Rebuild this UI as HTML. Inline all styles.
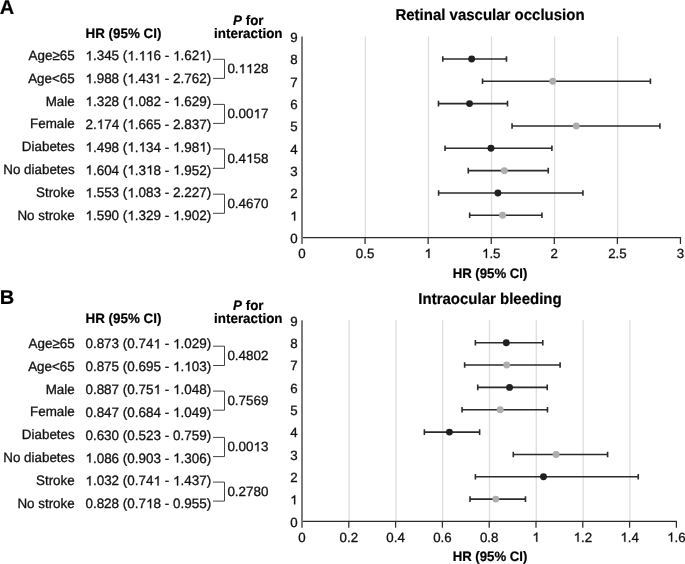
<!DOCTYPE html>
<html><head><meta charset="utf-8"><style>
html,body{margin:0;padding:0;background:#fff;}
body{width:685px;height:564px;overflow:hidden;}
svg{display:block;will-change:transform;}
text{font-family:"Liberation Sans",sans-serif;fill:#111;text-rendering:geometricPrecision;font-kerning:none;stroke:#111;stroke-width:0.3px;}
.base{font-size:13.3px;}
.tb{font-size:13.48px;}
.lb{font-size:13.4px;}
.pv{font-size:13.4px;}
.title{font-size:15px;}
.letter{font-size:20px;}
.b{font-size:13.4px;}
.ax{font-size:13.2px;}
.b,.ax,.title,.letter{font-weight:700;fill:#000;stroke:#000;stroke-width:0.2px;}
.h{fill-opacity:0;stroke-opacity:0;}
.one path{fill:#111;stroke:#111;stroke-width:0.3px;vector-effect:non-scaling-stroke;}
.g{stroke:#dedede;stroke-width:1.3;}
.ya{stroke:#777;stroke-width:1.9;}
.xa{stroke:#2a2a2a;stroke-width:1.25;fill:none;}
.eb{stroke:#2b2b2b;stroke-width:1.6;fill:none;}
.br{stroke:#444;stroke-width:1;fill:none;}
</style></head><body>
<svg width="685" height="564" viewBox="0 0 685 564">
<text x="-0.3" y="13.7" class="letter">A</text>
<text transform="translate(85.5 37.6) scale(1 1.025)" class="b">HR (95% CI)</text>
<text transform="translate(248.3 25) scale(1 1.025)" class="b" text-anchor="middle"><tspan font-style="italic">P</tspan> for</text>
<text transform="translate(248.3 37.9) scale(1 1.025)" class="b" text-anchor="middle">interaction</text>
<text transform="translate(490 19.9) scale(1 1.045)" class="title" text-anchor="middle">Retinal vascular occlusion</text>
<line x1="365.38" y1="36.44" x2="365.38" y2="237.5" class="g"/>
<line x1="428.45" y1="36.44" x2="428.45" y2="237.5" class="g"/>
<line x1="491.53" y1="36.44" x2="491.53" y2="237.5" class="g"/>
<line x1="554.6" y1="36.44" x2="554.6" y2="237.5" class="g"/>
<line x1="617.67" y1="36.44" x2="617.67" y2="237.5" class="g"/>
<text transform="translate(74.7 60) scale(1 1.015)" class="lb" text-anchor="end">Age≥65</text>
<text transform="translate(85.4 60.4) scale(1 1.01)" class="tb"><tspan class="h">1</tspan>.345 (<tspan class="h">1</tspan>.<tspan class="h">11</tspan>6 - <tspan class="h">1</tspan>.62<tspan class="h">1</tspan>)</text>
<text transform="translate(74.7 82.83) scale(1 1.015)" class="lb" text-anchor="end">Age&lt;65</text>
<text transform="translate(85.4 83.23) scale(1 1.01)" class="tb"><tspan class="h">1</tspan>.988 (<tspan class="h">1</tspan>.43<tspan class="h">1</tspan> - 2.762)</text>
<text transform="translate(74.7 105.66) scale(1 1.015)" class="lb" text-anchor="end">Male</text>
<text transform="translate(85.4 106.06) scale(1 1.01)" class="tb"><tspan class="h">1</tspan>.328 (<tspan class="h">1</tspan>.082 - <tspan class="h">1</tspan>.629)</text>
<text transform="translate(74.7 128.49) scale(1 1.015)" class="lb" text-anchor="end">Female</text>
<text transform="translate(85.4 128.89) scale(1 1.01)" class="tb">2.<tspan class="h">1</tspan>74 (<tspan class="h">1</tspan>.665 - 2.837)</text>
<text transform="translate(74.7 151.32) scale(1 1.015)" class="lb" text-anchor="end">Diabetes</text>
<text transform="translate(85.4 151.72) scale(1 1.01)" class="tb"><tspan class="h">1</tspan>.498 (<tspan class="h">1</tspan>.<tspan class="h">1</tspan>34 - <tspan class="h">1</tspan>.98<tspan class="h">1</tspan>)</text>
<text transform="translate(74.7 174.15) scale(1 1.015)" class="lb" text-anchor="end">No diabetes</text>
<text transform="translate(85.4 174.55) scale(1 1.01)" class="tb"><tspan class="h">1</tspan>.604 (<tspan class="h">1</tspan>.3<tspan class="h">1</tspan>8 - <tspan class="h">1</tspan>.952)</text>
<text transform="translate(74.7 196.98) scale(1 1.015)" class="lb" text-anchor="end">Stroke</text>
<text transform="translate(85.4 197.38) scale(1 1.01)" class="tb"><tspan class="h">1</tspan>.553 (<tspan class="h">1</tspan>.083 - 2.227)</text>
<text transform="translate(74.7 219.81) scale(1 1.015)" class="lb" text-anchor="end">No stroke</text>
<text transform="translate(85.4 220.21) scale(1 1.01)" class="tb"><tspan class="h">1</tspan>.590 (<tspan class="h">1</tspan>.329 - <tspan class="h">1</tspan>.902)</text>
<path d="M213 59.3H224.5V78.4H213" class="br"/>
<text x="227.4" y="73.15" class="pv">0.<tspan class="h">11</tspan>28</text>
<path d="M213 104.4H224.5V123.4H213" class="br"/>
<text x="227.4" y="118.2" class="pv">0.00<tspan class="h">1</tspan>7</text>
<path d="M213 148.9H224.5V168.3H213" class="br"/>
<text x="227.4" y="162.9" class="pv">0.4<tspan class="h">1</tspan>58</text>
<path d="M213 194.2H224.5V213.3H213" class="br"/>
<text x="227.4" y="208.05" class="pv">0.4670</text>
<text x="297.6" y="242.9" class="base" text-anchor="end">0</text>
<text x="297.6" y="220.56" class="base" text-anchor="end"><tspan class="h">1</tspan></text>
<text x="297.6" y="198.22" class="base" text-anchor="end">2</text>
<text x="297.6" y="175.88" class="base" text-anchor="end">3</text>
<text x="297.6" y="153.54" class="base" text-anchor="end">4</text>
<text x="297.6" y="131.2" class="base" text-anchor="end">5</text>
<text x="297.6" y="108.86" class="base" text-anchor="end">6</text>
<text x="297.6" y="86.52" class="base" text-anchor="end">7</text>
<text x="297.6" y="64.18" class="base" text-anchor="end">8</text>
<text x="297.6" y="41.84" class="base" text-anchor="end">9</text>
<path d="M302.9 237.5H680.45V243.9" class="xa"/>
<line x1="365.07" y1="237.5" x2="365.07" y2="243.9" class="xa"/>
<line x1="428.15" y1="237.5" x2="428.15" y2="243.9" class="xa"/>
<line x1="491.23" y1="237.5" x2="491.23" y2="243.9" class="xa"/>
<line x1="554.3" y1="237.5" x2="554.3" y2="243.9" class="xa"/>
<line x1="617.38" y1="237.5" x2="617.38" y2="243.9" class="xa"/>
<line x1="302" y1="36.44" x2="302" y2="243.9" class="ya"/>
<text x="302" y="257.9" class="base" text-anchor="middle">0</text>
<text x="365.07" y="257.9" class="base" text-anchor="middle">0.5</text>
<text x="428.15" y="257.9" class="base" text-anchor="middle"><tspan class="h">1</tspan></text>
<text x="491.23" y="257.9" class="base" text-anchor="middle"><tspan class="h">1</tspan>.5</text>
<text x="554.3" y="257.9" class="base" text-anchor="middle">2</text>
<text x="617.38" y="257.9" class="base" text-anchor="middle">2.5</text>
<text x="680.45" y="257.9" class="base" text-anchor="middle">3</text>
<text transform="translate(490 277.6) scale(1 1.035)" class="ax" text-anchor="middle">HR (95% CI)</text>
<path d="M442.78 58.93H506.49M442.78 56.13V61.73M506.49 56.13V61.73" class="eb"/>
<circle cx="471.67" cy="58.93" r="3.45" fill="#202020"/>
<path d="M482.52 81.27H650.43M482.52 78.47V84.07M650.43 78.47V84.07" class="eb"/>
<circle cx="552.79" cy="81.27" r="3.45" fill="#adadad"/>
<path d="M438.49 103.61H507.5M438.49 100.81V106.41M507.5 100.81V106.41" class="eb"/>
<circle cx="469.53" cy="103.61" r="3.45" fill="#202020"/>
<path d="M512.04 125.95H659.89M512.04 123.15V128.75M659.89 123.15V128.75" class="eb"/>
<circle cx="576.25" cy="125.95" r="3.45" fill="#adadad"/>
<path d="M445.05 148.29H551.9M445.05 145.49V151.09M551.9 145.49V151.09" class="eb"/>
<circle cx="490.97" cy="148.29" r="3.45" fill="#202020"/>
<path d="M468.27 170.63H548.24M468.27 167.83V173.43M548.24 167.83V173.43" class="eb"/>
<circle cx="504.34" cy="170.63" r="3.45" fill="#adadad"/>
<path d="M438.62 192.97H582.94M438.62 190.17V195.77M582.94 190.17V195.77" class="eb"/>
<circle cx="497.91" cy="192.97" r="3.45" fill="#202020"/>
<path d="M469.65 215.31H541.94M469.65 212.51V218.11M541.94 212.51V218.11" class="eb"/>
<circle cx="502.58" cy="215.31" r="3.45" fill="#adadad"/>
<text x="-0.3" y="303.7" class="letter">B</text>
<text transform="translate(85.5 322.6) scale(1 1.025)" class="b">HR (95% CI)</text>
<text transform="translate(248.3 310) scale(1 1.025)" class="b" text-anchor="middle"><tspan font-style="italic">P</tspan> for</text>
<text transform="translate(248.3 322.9) scale(1 1.025)" class="b" text-anchor="middle">interaction</text>
<text transform="translate(490 303.7) scale(1 1.045)" class="title" text-anchor="middle">Intraocular bleeding</text>
<line x1="349.1" y1="320.24" x2="349.1" y2="521.3" class="g"/>
<line x1="395.9" y1="320.24" x2="395.9" y2="521.3" class="g"/>
<line x1="442.7" y1="320.24" x2="442.7" y2="521.3" class="g"/>
<line x1="489.5" y1="320.24" x2="489.5" y2="521.3" class="g"/>
<line x1="536.3" y1="320.24" x2="536.3" y2="521.3" class="g"/>
<line x1="583.1" y1="320.24" x2="583.1" y2="521.3" class="g"/>
<line x1="629.9" y1="320.24" x2="629.9" y2="521.3" class="g"/>
<text transform="translate(74.7 348) scale(1 1.015)" class="lb" text-anchor="end">Age≥65</text>
<text transform="translate(85.4 348.4) scale(1 1.01)" class="tb">0.873 (0.74<tspan class="h">1</tspan> - <tspan class="h">1</tspan>.029)</text>
<text transform="translate(74.7 370.83) scale(1 1.015)" class="lb" text-anchor="end">Age&lt;65</text>
<text transform="translate(85.4 371.23) scale(1 1.01)" class="tb">0.875 (0.695 - <tspan class="h">1</tspan>.<tspan class="h">1</tspan>03)</text>
<text transform="translate(74.7 393.66) scale(1 1.015)" class="lb" text-anchor="end">Male</text>
<text transform="translate(85.4 394.06) scale(1 1.01)" class="tb">0.887 (0.75<tspan class="h">1</tspan> - <tspan class="h">1</tspan>.048)</text>
<text transform="translate(74.7 416.49) scale(1 1.015)" class="lb" text-anchor="end">Female</text>
<text transform="translate(85.4 416.89) scale(1 1.01)" class="tb">0.847 (0.684 - <tspan class="h">1</tspan>.049)</text>
<text transform="translate(74.7 439.32) scale(1 1.015)" class="lb" text-anchor="end">Diabetes</text>
<text transform="translate(85.4 439.72) scale(1 1.01)" class="tb">0.630 (0.523 - 0.759)</text>
<text transform="translate(74.7 462.15) scale(1 1.015)" class="lb" text-anchor="end">No diabetes</text>
<text transform="translate(85.4 462.55) scale(1 1.01)" class="tb"><tspan class="h">1</tspan>.086 (0.903 - <tspan class="h">1</tspan>.306)</text>
<text transform="translate(74.7 484.98) scale(1 1.015)" class="lb" text-anchor="end">Stroke</text>
<text transform="translate(85.4 485.38) scale(1 1.01)" class="tb"><tspan class="h">1</tspan>.032 (0.74<tspan class="h">1</tspan> - <tspan class="h">1</tspan>.437)</text>
<text transform="translate(74.7 507.81) scale(1 1.015)" class="lb" text-anchor="end">No stroke</text>
<text transform="translate(85.4 508.21) scale(1 1.01)" class="tb">0.828 (0.7<tspan class="h">1</tspan>8 - 0.955)</text>
<path d="M213 346.2H224.5V365.5H213" class="br"/>
<text x="227.4" y="360.15" class="pv">0.4802</text>
<path d="M213 391.1H224.5V410.2H213" class="br"/>
<text x="227.4" y="404.95" class="pv">0.7569</text>
<path d="M213 437.4H224.5V456.6H213" class="br"/>
<text x="227.4" y="451.3" class="pv">0.00<tspan class="h">1</tspan>3</text>
<path d="M213 482.1H224.5V501.1H213" class="br"/>
<text x="227.4" y="495.9" class="pv">0.2780</text>
<text x="297.6" y="526.7" class="base" text-anchor="end">0</text>
<text x="297.6" y="504.36" class="base" text-anchor="end"><tspan class="h">1</tspan></text>
<text x="297.6" y="482.02" class="base" text-anchor="end">2</text>
<text x="297.6" y="459.68" class="base" text-anchor="end">3</text>
<text x="297.6" y="437.34" class="base" text-anchor="end">4</text>
<text x="297.6" y="415" class="base" text-anchor="end">5</text>
<text x="297.6" y="392.66" class="base" text-anchor="end">6</text>
<text x="297.6" y="370.32" class="base" text-anchor="end">7</text>
<text x="297.6" y="347.98" class="base" text-anchor="end">8</text>
<text x="297.6" y="325.64" class="base" text-anchor="end">9</text>
<path d="M302.9 521.3H676.4V527.7" class="xa"/>
<line x1="348.8" y1="521.3" x2="348.8" y2="527.7" class="xa"/>
<line x1="395.6" y1="521.3" x2="395.6" y2="527.7" class="xa"/>
<line x1="442.4" y1="521.3" x2="442.4" y2="527.7" class="xa"/>
<line x1="489.2" y1="521.3" x2="489.2" y2="527.7" class="xa"/>
<line x1="536" y1="521.3" x2="536" y2="527.7" class="xa"/>
<line x1="582.8" y1="521.3" x2="582.8" y2="527.7" class="xa"/>
<line x1="629.6" y1="521.3" x2="629.6" y2="527.7" class="xa"/>
<line x1="302" y1="320.24" x2="302" y2="527.7" class="ya"/>
<text x="302" y="541.7" class="base" text-anchor="middle">0</text>
<text x="348.8" y="541.7" class="base" text-anchor="middle">0.2</text>
<text x="395.6" y="541.7" class="base" text-anchor="middle">0.4</text>
<text x="442.4" y="541.7" class="base" text-anchor="middle">0.6</text>
<text x="489.2" y="541.7" class="base" text-anchor="middle">0.8</text>
<text x="536" y="541.7" class="base" text-anchor="middle"><tspan class="h">1</tspan></text>
<text x="582.8" y="541.7" class="base" text-anchor="middle"><tspan class="h">1</tspan>.2</text>
<text x="629.6" y="541.7" class="base" text-anchor="middle"><tspan class="h">1</tspan>.4</text>
<text x="676.4" y="541.7" class="base" text-anchor="middle"><tspan class="h">1</tspan>.6</text>
<text transform="translate(490 561.4) scale(1 1.035)" class="ax" text-anchor="middle">HR (95% CI)</text>
<path d="M475.39 342.73H542.79M475.39 339.93V345.53M542.79 339.93V345.53" class="eb"/>
<circle cx="506.28" cy="342.73" r="3.45" fill="#202020"/>
<path d="M464.63 365.07H560.1M464.63 362.27V367.87M560.1 362.27V367.87" class="eb"/>
<circle cx="506.75" cy="365.07" r="3.45" fill="#adadad"/>
<path d="M477.73 387.41H547.23M477.73 384.61V390.21M547.23 384.61V390.21" class="eb"/>
<circle cx="509.56" cy="387.41" r="3.45" fill="#202020"/>
<path d="M462.06 409.75H547.47M462.06 406.95V412.55M547.47 406.95V412.55" class="eb"/>
<circle cx="500.2" cy="409.75" r="3.45" fill="#adadad"/>
<path d="M424.38 432.09H479.61M424.38 429.29V434.89M479.61 429.29V434.89" class="eb"/>
<circle cx="449.42" cy="432.09" r="3.45" fill="#202020"/>
<path d="M513.3 454.43H607.6M513.3 451.63V457.23M607.6 451.63V457.23" class="eb"/>
<circle cx="556.12" cy="454.43" r="3.45" fill="#adadad"/>
<path d="M475.39 476.77H638.26M475.39 473.97V479.57M638.26 473.97V479.57" class="eb"/>
<circle cx="543.49" cy="476.77" r="3.45" fill="#202020"/>
<path d="M470.01 499.11H525.47M470.01 496.31V501.91M525.47 496.31V501.91" class="eb"/>
<circle cx="495.75" cy="499.11" r="3.45" fill="#adadad"/>
<g class="one"><path d="M775 0L595 0L595 1105C552 1064 495 1025 425 986C355 947 292 918 231 898L231 1070C332 1116 420 1172 496 1237C572 1302 626 1363 658 1409L775 1409Z" transform="matrix(0.006582 0.000000 0.000000 -0.006648 85.400 60.400)"/><path d="M775 0L595 0L595 1105C552 1064 495 1025 425 986C355 947 292 918 231 898L231 1070C332 1116 420 1172 496 1237C572 1302 626 1363 658 1409L775 1409Z" transform="matrix(0.006582 0.000000 0.000000 -0.006648 127.353 60.400)"/><path d="M775 0L595 0L595 1105C552 1064 495 1025 425 986C355 947 292 918 231 898L231 1070C332 1116 420 1172 496 1237C572 1302 626 1363 658 1409L775 1409Z" transform="matrix(0.006582 0.000000 0.000000 -0.006648 138.603 60.400)"/><path d="M775 0L595 0L595 1105C552 1064 495 1025 425 986C355 947 292 918 231 898L231 1070C332 1116 420 1172 496 1237C572 1302 626 1363 658 1409L775 1409Z" transform="matrix(0.006582 0.000000 0.000000 -0.006648 146.088 60.400)"/><path d="M775 0L595 0L595 1105C552 1064 495 1025 425 986C355 947 292 918 231 898L231 1070C332 1116 420 1172 496 1237C572 1302 626 1363 658 1409L775 1409Z" transform="matrix(0.006582 0.000000 0.000000 -0.006648 173.056 60.400)"/><path d="M775 0L595 0L595 1105C552 1064 495 1025 425 986C355 947 292 918 231 898L231 1070C332 1116 420 1172 496 1237C572 1302 626 1363 658 1409L775 1409Z" transform="matrix(0.006582 0.000000 0.000000 -0.006648 199.291 60.400)"/><path d="M775 0L595 0L595 1105C552 1064 495 1025 425 986C355 947 292 918 231 898L231 1070C332 1116 420 1172 496 1237C572 1302 626 1363 658 1409L775 1409Z" transform="matrix(0.006582 0.000000 0.000000 -0.006648 85.400 83.230)"/><path d="M775 0L595 0L595 1105C552 1064 495 1025 425 986C355 947 292 918 231 898L231 1070C332 1116 420 1172 496 1237C572 1302 626 1363 658 1409L775 1409Z" transform="matrix(0.006582 0.000000 0.000000 -0.006648 127.353 83.230)"/><path d="M775 0L595 0L595 1105C552 1064 495 1025 425 986C355 947 292 918 231 898L231 1070C332 1116 420 1172 496 1237C572 1302 626 1363 658 1409L775 1409Z" transform="matrix(0.006582 0.000000 0.000000 -0.006648 153.588 83.230)"/><path d="M775 0L595 0L595 1105C552 1064 495 1025 425 986C355 947 292 918 231 898L231 1070C332 1116 420 1172 496 1237C572 1302 626 1363 658 1409L775 1409Z" transform="matrix(0.006582 0.000000 0.000000 -0.006648 85.400 106.060)"/><path d="M775 0L595 0L595 1105C552 1064 495 1025 425 986C355 947 292 918 231 898L231 1070C332 1116 420 1172 496 1237C572 1302 626 1363 658 1409L775 1409Z" transform="matrix(0.006582 0.000000 0.000000 -0.006648 127.353 106.060)"/><path d="M775 0L595 0L595 1105C552 1064 495 1025 425 986C355 947 292 918 231 898L231 1070C332 1116 420 1172 496 1237C572 1302 626 1363 658 1409L775 1409Z" transform="matrix(0.006582 0.000000 0.000000 -0.006648 173.041 106.060)"/><path d="M775 0L595 0L595 1105C552 1064 495 1025 425 986C355 947 292 918 231 898L231 1070C332 1116 420 1172 496 1237C572 1302 626 1363 658 1409L775 1409Z" transform="matrix(0.006582 0.000000 0.000000 -0.006648 96.634 128.890)"/><path d="M775 0L595 0L595 1105C552 1064 495 1025 425 986C355 947 292 918 231 898L231 1070C332 1116 420 1172 496 1237C572 1302 626 1363 658 1409L775 1409Z" transform="matrix(0.006582 0.000000 0.000000 -0.006648 127.353 128.890)"/><path d="M775 0L595 0L595 1105C552 1064 495 1025 425 986C355 947 292 918 231 898L231 1070C332 1116 420 1172 496 1237C572 1302 626 1363 658 1409L775 1409Z" transform="matrix(0.006582 0.000000 0.000000 -0.006648 85.400 151.720)"/><path d="M775 0L595 0L595 1105C552 1064 495 1025 425 986C355 947 292 918 231 898L231 1070C332 1116 420 1172 496 1237C572 1302 626 1363 658 1409L775 1409Z" transform="matrix(0.006582 0.000000 0.000000 -0.006648 127.353 151.720)"/><path d="M775 0L595 0L595 1105C552 1064 495 1025 425 986C355 947 292 918 231 898L231 1070C332 1116 420 1172 496 1237C572 1302 626 1363 658 1409L775 1409Z" transform="matrix(0.006582 0.000000 0.000000 -0.006648 138.603 151.720)"/><path d="M775 0L595 0L595 1105C552 1064 495 1025 425 986C355 947 292 918 231 898L231 1070C332 1116 420 1172 496 1237C572 1302 626 1363 658 1409L775 1409Z" transform="matrix(0.006582 0.000000 0.000000 -0.006648 173.056 151.720)"/><path d="M775 0L595 0L595 1105C552 1064 495 1025 425 986C355 947 292 918 231 898L231 1070C332 1116 420 1172 496 1237C572 1302 626 1363 658 1409L775 1409Z" transform="matrix(0.006582 0.000000 0.000000 -0.006648 199.291 151.720)"/><path d="M775 0L595 0L595 1105C552 1064 495 1025 425 986C355 947 292 918 231 898L231 1070C332 1116 420 1172 496 1237C572 1302 626 1363 658 1409L775 1409Z" transform="matrix(0.006582 0.000000 0.000000 -0.006648 85.400 174.550)"/><path d="M775 0L595 0L595 1105C552 1064 495 1025 425 986C355 947 292 918 231 898L231 1070C332 1116 420 1172 496 1237C572 1302 626 1363 658 1409L775 1409Z" transform="matrix(0.006582 0.000000 0.000000 -0.006648 127.353 174.550)"/><path d="M775 0L595 0L595 1105C552 1064 495 1025 425 986C355 947 292 918 231 898L231 1070C332 1116 420 1172 496 1237C572 1302 626 1363 658 1409L775 1409Z" transform="matrix(0.006582 0.000000 0.000000 -0.006648 146.088 174.550)"/><path d="M775 0L595 0L595 1105C552 1064 495 1025 425 986C355 947 292 918 231 898L231 1070C332 1116 420 1172 496 1237C572 1302 626 1363 658 1409L775 1409Z" transform="matrix(0.006582 0.000000 0.000000 -0.006648 173.056 174.550)"/><path d="M775 0L595 0L595 1105C552 1064 495 1025 425 986C355 947 292 918 231 898L231 1070C332 1116 420 1172 496 1237C572 1302 626 1363 658 1409L775 1409Z" transform="matrix(0.006582 0.000000 0.000000 -0.006648 85.400 197.380)"/><path d="M775 0L595 0L595 1105C552 1064 495 1025 425 986C355 947 292 918 231 898L231 1070C332 1116 420 1172 496 1237C572 1302 626 1363 658 1409L775 1409Z" transform="matrix(0.006582 0.000000 0.000000 -0.006648 127.353 197.380)"/><path d="M775 0L595 0L595 1105C552 1064 495 1025 425 986C355 947 292 918 231 898L231 1070C332 1116 420 1172 496 1237C572 1302 626 1363 658 1409L775 1409Z" transform="matrix(0.006582 0.000000 0.000000 -0.006648 85.400 220.210)"/><path d="M775 0L595 0L595 1105C552 1064 495 1025 425 986C355 947 292 918 231 898L231 1070C332 1116 420 1172 496 1237C572 1302 626 1363 658 1409L775 1409Z" transform="matrix(0.006582 0.000000 0.000000 -0.006648 127.353 220.210)"/><path d="M775 0L595 0L595 1105C552 1064 495 1025 425 986C355 947 292 918 231 898L231 1070C332 1116 420 1172 496 1237C572 1302 626 1363 658 1409L775 1409Z" transform="matrix(0.006582 0.000000 0.000000 -0.006648 173.041 220.210)"/><path d="M775 0L595 0L595 1105C552 1064 495 1025 425 986C355 947 292 918 231 898L231 1070C332 1116 420 1172 496 1237C572 1302 626 1363 658 1409L775 1409Z" transform="matrix(0.006543 0.000000 0.000000 -0.006543 238.572 73.150)"/><path d="M775 0L595 0L595 1105C552 1064 495 1025 425 986C355 947 292 918 231 898L231 1070C332 1116 420 1172 496 1237C572 1302 626 1363 658 1409L775 1409Z" transform="matrix(0.006543 0.000000 0.000000 -0.006543 246.009 73.150)"/><path d="M775 0L595 0L595 1105C552 1064 495 1025 425 986C355 947 292 918 231 898L231 1070C332 1116 420 1172 496 1237C572 1302 626 1363 658 1409L775 1409Z" transform="matrix(0.006543 0.000000 0.000000 -0.006543 253.462 118.200)"/><path d="M775 0L595 0L595 1105C552 1064 495 1025 425 986C355 947 292 918 231 898L231 1070C332 1116 420 1172 496 1237C572 1302 626 1363 658 1409L775 1409Z" transform="matrix(0.006543 0.000000 0.000000 -0.006543 246.025 162.900)"/><path d="M775 0L595 0L595 1105C552 1064 495 1025 425 986C355 947 292 918 231 898L231 1070C332 1116 420 1172 496 1237C572 1302 626 1363 658 1409L775 1409Z" transform="matrix(0.006494 0.000000 0.000000 -0.006494 290.194 220.560)"/><path d="M775 0L595 0L595 1105C552 1064 495 1025 425 986C355 947 292 918 231 898L231 1070C332 1116 420 1172 496 1237C572 1302 626 1363 658 1409L775 1409Z" transform="matrix(0.006494 0.000000 0.000000 -0.006494 424.447 257.900)"/><path d="M775 0L595 0L595 1105C552 1064 495 1025 425 986C355 947 292 918 231 898L231 1070C332 1116 420 1172 496 1237C572 1302 626 1363 658 1409L775 1409Z" transform="matrix(0.006494 0.000000 0.000000 -0.006494 481.980 257.900)"/><path d="M775 0L595 0L595 1105C552 1064 495 1025 425 986C355 947 292 918 231 898L231 1070C332 1116 420 1172 496 1237C572 1302 626 1363 658 1409L775 1409Z" transform="matrix(0.006582 0.000000 0.000000 -0.006648 153.556 348.400)"/><path d="M775 0L595 0L595 1105C552 1064 495 1025 425 986C355 947 292 918 231 898L231 1070C332 1116 420 1172 496 1237C572 1302 626 1363 658 1409L775 1409Z" transform="matrix(0.006582 0.000000 0.000000 -0.006648 173.041 348.400)"/><path d="M775 0L595 0L595 1105C552 1064 495 1025 425 986C355 947 292 918 231 898L231 1070C332 1116 420 1172 496 1237C572 1302 626 1363 658 1409L775 1409Z" transform="matrix(0.006582 0.000000 0.000000 -0.006648 173.009 371.230)"/><path d="M775 0L595 0L595 1105C552 1064 495 1025 425 986C355 947 292 918 231 898L231 1070C332 1116 420 1172 496 1237C572 1302 626 1363 658 1409L775 1409Z" transform="matrix(0.006582 0.000000 0.000000 -0.006648 184.259 371.230)"/><path d="M775 0L595 0L595 1105C552 1064 495 1025 425 986C355 947 292 918 231 898L231 1070C332 1116 420 1172 496 1237C572 1302 626 1363 658 1409L775 1409Z" transform="matrix(0.006582 0.000000 0.000000 -0.006648 153.556 394.060)"/><path d="M775 0L595 0L595 1105C552 1064 495 1025 425 986C355 947 292 918 231 898L231 1070C332 1116 420 1172 496 1237C572 1302 626 1363 658 1409L775 1409Z" transform="matrix(0.006582 0.000000 0.000000 -0.006648 173.041 394.060)"/><path d="M775 0L595 0L595 1105C552 1064 495 1025 425 986C355 947 292 918 231 898L231 1070C332 1116 420 1172 496 1237C572 1302 626 1363 658 1409L775 1409Z" transform="matrix(0.006582 0.000000 0.000000 -0.006648 173.009 416.890)"/><path d="M775 0L595 0L595 1105C552 1064 495 1025 425 986C355 947 292 918 231 898L231 1070C332 1116 420 1172 496 1237C572 1302 626 1363 658 1409L775 1409Z" transform="matrix(0.006582 0.000000 0.000000 -0.006648 85.400 462.550)"/><path d="M775 0L595 0L595 1105C552 1064 495 1025 425 986C355 947 292 918 231 898L231 1070C332 1116 420 1172 496 1237C572 1302 626 1363 658 1409L775 1409Z" transform="matrix(0.006582 0.000000 0.000000 -0.006648 173.025 462.550)"/><path d="M775 0L595 0L595 1105C552 1064 495 1025 425 986C355 947 292 918 231 898L231 1070C332 1116 420 1172 496 1237C572 1302 626 1363 658 1409L775 1409Z" transform="matrix(0.006582 0.000000 0.000000 -0.006648 85.400 485.380)"/><path d="M775 0L595 0L595 1105C552 1064 495 1025 425 986C355 947 292 918 231 898L231 1070C332 1116 420 1172 496 1237C572 1302 626 1363 658 1409L775 1409Z" transform="matrix(0.006582 0.000000 0.000000 -0.006648 153.556 485.380)"/><path d="M775 0L595 0L595 1105C552 1064 495 1025 425 986C355 947 292 918 231 898L231 1070C332 1116 420 1172 496 1237C572 1302 626 1363 658 1409L775 1409Z" transform="matrix(0.006582 0.000000 0.000000 -0.006648 173.041 485.380)"/><path d="M775 0L595 0L595 1105C552 1064 495 1025 425 986C355 947 292 918 231 898L231 1070C332 1116 420 1172 496 1237C572 1302 626 1363 658 1409L775 1409Z" transform="matrix(0.006582 0.000000 0.000000 -0.006648 146.056 508.210)"/><path d="M775 0L595 0L595 1105C552 1064 495 1025 425 986C355 947 292 918 231 898L231 1070C332 1116 420 1172 496 1237C572 1302 626 1363 658 1409L775 1409Z" transform="matrix(0.006543 0.000000 0.000000 -0.006543 253.462 451.300)"/><path d="M775 0L595 0L595 1105C552 1064 495 1025 425 986C355 947 292 918 231 898L231 1070C332 1116 420 1172 496 1237C572 1302 626 1363 658 1409L775 1409Z" transform="matrix(0.006494 0.000000 0.000000 -0.006494 290.194 504.360)"/><path d="M775 0L595 0L595 1105C552 1064 495 1025 425 986C355 947 292 918 231 898L231 1070C332 1116 420 1172 496 1237C572 1302 626 1363 658 1409L775 1409Z" transform="matrix(0.006494 0.000000 0.000000 -0.006494 532.297 541.700)"/><path d="M775 0L595 0L595 1105C552 1064 495 1025 425 986C355 947 292 918 231 898L231 1070C332 1116 420 1172 496 1237C572 1302 626 1363 658 1409L775 1409Z" transform="matrix(0.006494 0.000000 0.000000 -0.006494 573.550 541.700)"/><path d="M775 0L595 0L595 1105C552 1064 495 1025 425 986C355 947 292 918 231 898L231 1070C332 1116 420 1172 496 1237C572 1302 626 1363 658 1409L775 1409Z" transform="matrix(0.006494 0.000000 0.000000 -0.006494 620.350 541.700)"/><path d="M775 0L595 0L595 1105C552 1064 495 1025 425 986C355 947 292 918 231 898L231 1070C332 1116 420 1172 496 1237C572 1302 626 1363 658 1409L775 1409Z" transform="matrix(0.006494 0.000000 0.000000 -0.006494 667.150 541.700)"/></g>
</svg>
</body></html>
